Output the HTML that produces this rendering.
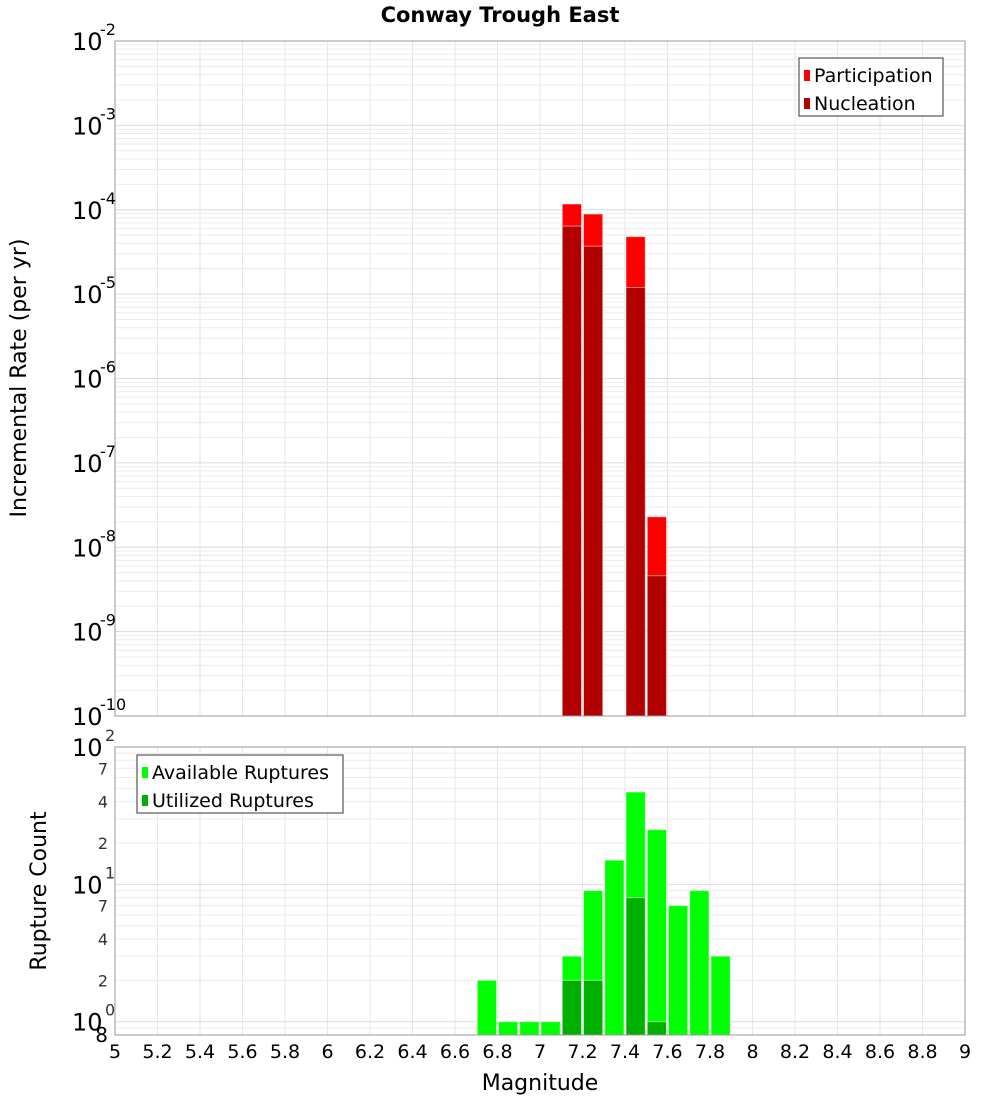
<!DOCTYPE html>
<html><head><meta charset="utf-8"><style>
body{margin:0;background:#fff;font-family:"DejaVu Sans","Liberation Sans",sans-serif;}
svg text{font-family:"DejaVu Sans","Liberation Sans",sans-serif;}
</style></head><body>
<svg id="c" width="1000" height="1100" xmlns="http://www.w3.org/2000/svg">
<text x="500" y="22" text-anchor="middle" font-size="21" font-weight="bold">Conway Trough East</text>
<g id="topPanel"></g>
<g id="botPanel"></g>
<text transform="translate(26,378) rotate(-90)" text-anchor="middle" font-size="22">Incremental Rate (per yr)</text>
<text transform="translate(46,891) rotate(-90)" text-anchor="middle" font-size="22">Rupture Count</text>
<text x="540" y="1090" text-anchor="middle" font-size="22">Magnitude</text>
</svg>
<script>
const rateMags=[7.15,7.25,7.45,7.55];
const participation=[1.17e-4,8.9e-5,4.8e-5,2.3e-8];
const nucleation=[6.4e-5,3.7e-5,1.2e-5,4.6e-9];
const countMags=[6.75,6.85,6.95,7.05,7.15,7.25,7.35,7.45,7.55,7.65,7.75,7.85];
const available=[2,1,1,1,3,9,15,47,25,7,9,3];
const utilizedMags=[7.15,7.25,7.45,7.55];
const utilized=[2,2,8,1];
const xTicks=[5,5.2,5.4,5.6,5.8,6,6.2,6.4,6.6,6.8,7,7.2,7.4,7.6,7.8,8,8.2,8.4,8.6,8.8,9];
const rateExps=[-2,-3,-4,-5,-6,-7,-8,-9,-10];
const countExps=[2,1,0];
const countMinor=[7,4,2];

const NS="http://www.w3.org/2000/svg";
const L=115,R=965;
const x=m=>L+(m-5)/4*(R-L);
const T1=41,B1=716;
const y1=v=>T1+(-2-Math.log10(v))/8*(B1-T1);
const T2=747,B2=1035,LMIN=Math.log10(0.8);
const y2=v=>T2+(2-Math.log10(v))/(2-LMIN)*(B2-T2);
function el(p,t,a,txt){const e=document.createElementNS(NS,t);for(const k in a)e.setAttribute(k,a[k]);if(txt!==undefined)e.textContent=txt;p.appendChild(e);return e;}
const topG=document.getElementById('topPanel'),botG=document.getElementById('botPanel');

function grid(g,T,B,yf,lo,hi){
  for(const t of xTicks){const l=el(g,'line',{x1:x(t),x2:x(t),y1:T,y2:B,stroke:'#e6e6e6'});
  
  }
  for(let e=lo;e<hi;e++)for(let k=1;k<10;k++){const v=k*Math.pow(10,e);const yy=yf(v);if(yy<T||yy>B)continue;
    const l=el(g,'line',{x1:L,x2:R,y1:yy,y2:yy,stroke:k==1?'#dcdcdc':'#ececec'});
    
    }
}
grid(topG,T1,B1,y1,-10,-1);
grid(botG,T2,B2,y2,-1,2);

function bars(g,mags,vals,yf,B,fill,name){
  mags.forEach((m,i)=>{const yy=yf(vals[i]);
    const r=el(g,'rect',{x:x(m-0.05)+1,y:yy,width:x(m+0.05)-x(m-0.05)-2,height:B-yy,fill:fill,stroke:'#fff','stroke-opacity':0.5,'stroke-width':1});
    
    });
}
bars(topG,rateMags,participation,y1,B1,'#ff0000','participation-bar');
bars(topG,rateMags,nucleation,y1,B1,'#b20000','nucleation-bar');
bars(botG,countMags,available,y2,B2,'#00ff00','available-bar');
bars(botG,utilizedMags,utilized,y2,B2,'#00b000','utilized-bar');

const svg=document.getElementById('c');
[[T1,B1],[T2,B2]].forEach(([T,B])=>{const f=el(svg,'rect',{x:L,y:T,width:R-L,height:B-T,fill:'none',stroke:'#999'});

});

rateExps.forEach(e=>{const yy=y1(Math.pow(10,e));
  const t=el(svg,'text',{x:72,y:yy+9,'font-size':24},'10');
  
  
  const s=el(svg,'text',{x:100,y:yy-6,'font-size':16},String(e));
  
  });
countExps.forEach(e=>{const yy=y2(Math.pow(10,e));
  const t=el(svg,'text',{x:72,y:yy+9,'font-size':24},'10');
  
  
  const s=el(svg,'text',{x:105,y:yy-6,'font-size':16,fill:'#333'},String(e));
  
  
  if(e>0)countMinor.forEach(k=>{const v=k*Math.pow(10,e-1);const m=el(svg,'text',{x:108,y:y2(v)+6,'font-size':16,'text-anchor':'end',fill:'#333'},String(k));
    
    });});
{const m=el(svg,'text',{x:108,y:1042,'font-size':20,'text-anchor':'end'},'8');

}
xTicks.forEach(t=>{const l=el(svg,'text',{x:x(t),y:1058,'font-size':19,'text-anchor':'middle'},String(t));
  
  });

function legend(lx,ly,w,items){
  const g=el(svg,'g',{});
  
  
  el(g,'rect',{x:lx,y:ly,width:w,height:58,fill:'#fff',stroke:'#333'});
  items.forEach(([c,t],i)=>{
    const it=el(g,'g',{});
    
    
    el(it,'rect',{x:lx+5,y:ly+12+i*28,width:6,height:11,fill:c});
    el(it,'text',{x:lx+15,y:ly+24+i*28,'font-size':19},t);});
}
legend(799,58,144,[['#ff0000','Participation'],['#b20000','Nucleation']]);
legend(137,755,206,[['#00ff00','Available Ruptures'],['#00b000','Utilized Ruptures']]);
</script>
</body></html>
